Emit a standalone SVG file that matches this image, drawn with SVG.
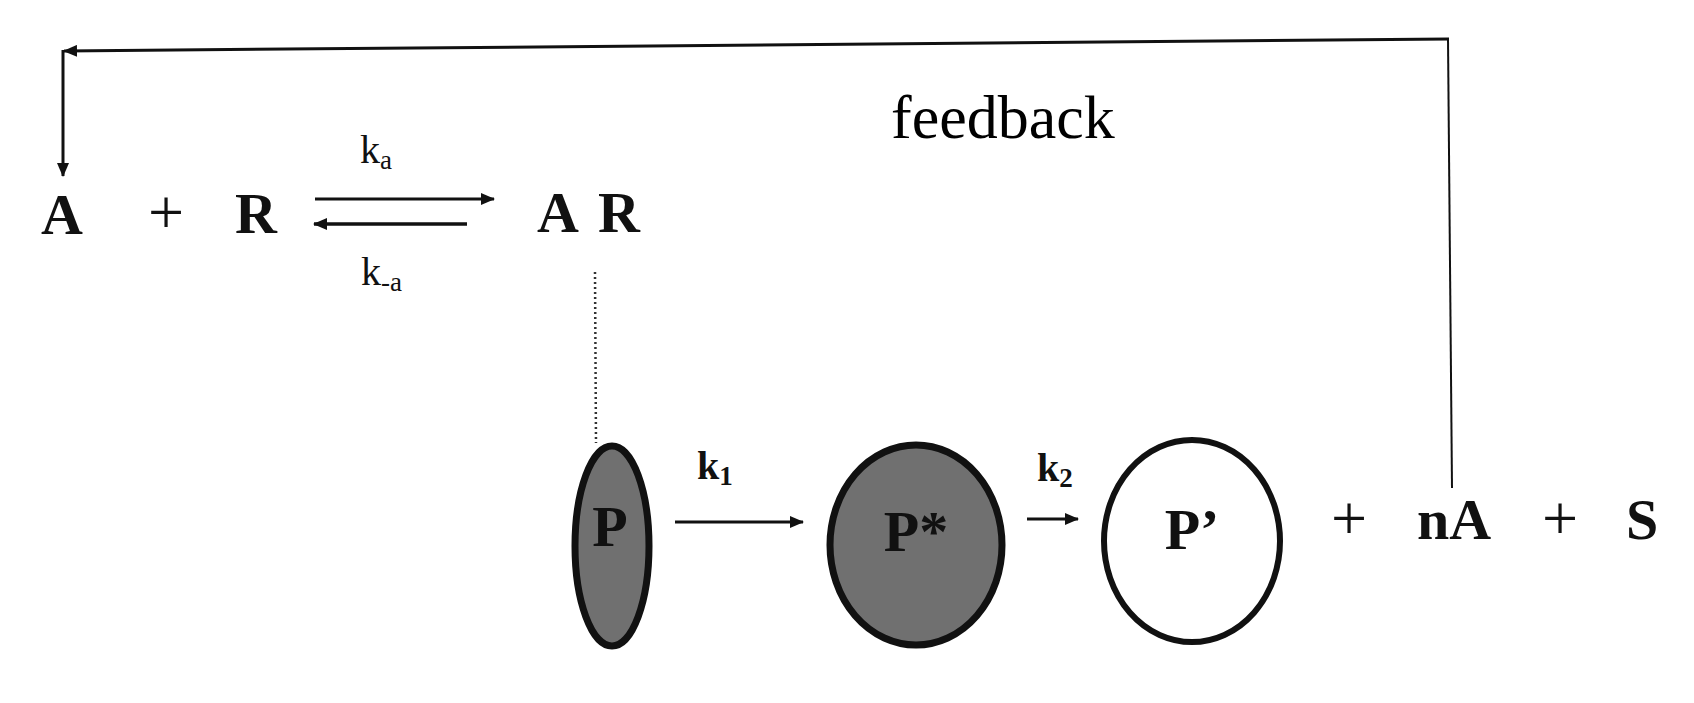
<svg xmlns="http://www.w3.org/2000/svg" width="1694" height="703" viewBox="0 0 1694 703">
<defs>
<marker id="ah" viewBox="0 0 14 12" refX="13" refY="6" markerWidth="14" markerHeight="12" markerUnits="userSpaceOnUse" orient="auto">
<path d="M0,0 L14,6 L0,12 Z" fill="#111"/>
</marker>
<style>
.big{font-family:"Liberation Serif","Times New Roman",serif;font-weight:bold;font-size:58px;fill:#111}
.plus{font-family:"Liberation Serif","Times New Roman",serif;font-size:64px;fill:#111}
.k{font-family:"Liberation Serif","Times New Roman",serif;font-size:40px;fill:#111}
.kb{font-family:"Liberation Serif","Times New Roman",serif;font-weight:bold;font-size:40px;fill:#111}
.sub{font-size:27px}
.fb{font-family:"Liberation Serif","Times New Roman",serif;font-size:62px;fill:#000}
.ln{stroke:#111;fill:none}
.filled{fill:#707070;stroke:#111;stroke-width:7}
.open{fill:#fff;stroke:#111;stroke-width:6}
</style>
</defs>
<rect width="1694" height="703" fill="#fff"/>

<g id="connectors">
<path class="ln" d="M1452,488 L1448,39" stroke-width="2"/>
<path class="ln" d="M1449,39 L64,51" stroke-width="3" marker-end="url(#ah)"/>
<path class="ln" d="M63,50 L63,176" stroke-width="3" marker-end="url(#ah)"/>
<line class="ln" x1="315" y1="199" x2="494" y2="199" stroke-width="3" marker-end="url(#ah)"/>
<line class="ln" x1="467" y1="224" x2="314" y2="224" stroke-width="3.5" marker-end="url(#ah)"/>
<line x1="595" y1="272" x2="596" y2="443" stroke="#333" stroke-width="2.5" stroke-dasharray="2,3"/>
<line class="ln" x1="675" y1="522" x2="803" y2="522" stroke-width="3" marker-end="url(#ah)"/>
<line class="ln" x1="1027" y1="519" x2="1078" y2="519" stroke-width="3" marker-end="url(#ah)"/>
</g>

<g id="label-feedback"><text class="fb" x="891" y="138">feedback</text></g>
<g id="label-ka"><text class="k" x="360" y="163">k<tspan class="sub" dy="6">a</tspan></text></g>
<g id="label-k-a"><text class="k" x="361" y="285">k<tspan class="sub" dy="6">-a</tspan></text></g>
<g id="label-k1"><text class="kb" x="697" y="479">k<tspan class="sub" dy="6">1</tspan></text></g>
<g id="label-k2"><text class="kb" x="1037" y="481">k<tspan class="sub" dy="6">2</tspan></text></g>

<g id="node-A"><text class="big" x="41" y="234">A</text></g>
<g id="plus-1"><text class="plus" x="166" y="234" text-anchor="middle">+</text></g>
<g id="node-R"><text class="big" x="235" y="233">R</text></g>
<g id="node-AR"><text class="big" x="537" y="232">A</text><text class="big" x="598" y="232">R</text></g>

<g id="node-P">
<ellipse class="filled" cx="612" cy="546" rx="37" ry="100"/>
<text class="big" x="610" y="546" text-anchor="middle">P</text>
</g>
<g id="node-Pstar">
<ellipse class="filled" cx="916" cy="545" rx="86" ry="100"/>
<text class="big" x="916" y="551" text-anchor="middle">P*</text>
</g>
<g id="node-Pprime">
<ellipse class="open" cx="1192" cy="541" rx="88" ry="101"/>
<text class="big" x="1192" y="549" text-anchor="middle">P’</text>
</g>
<g id="plus-2"><text class="plus" x="1349" y="540" text-anchor="middle">+</text></g>
<g id="node-nA"><text class="big" x="1417" y="539">nA</text></g>
<g id="plus-3"><text class="plus" x="1560" y="540" text-anchor="middle">+</text></g>
<g id="node-S"><text class="big" x="1626" y="539">S</text></g>
</svg>
